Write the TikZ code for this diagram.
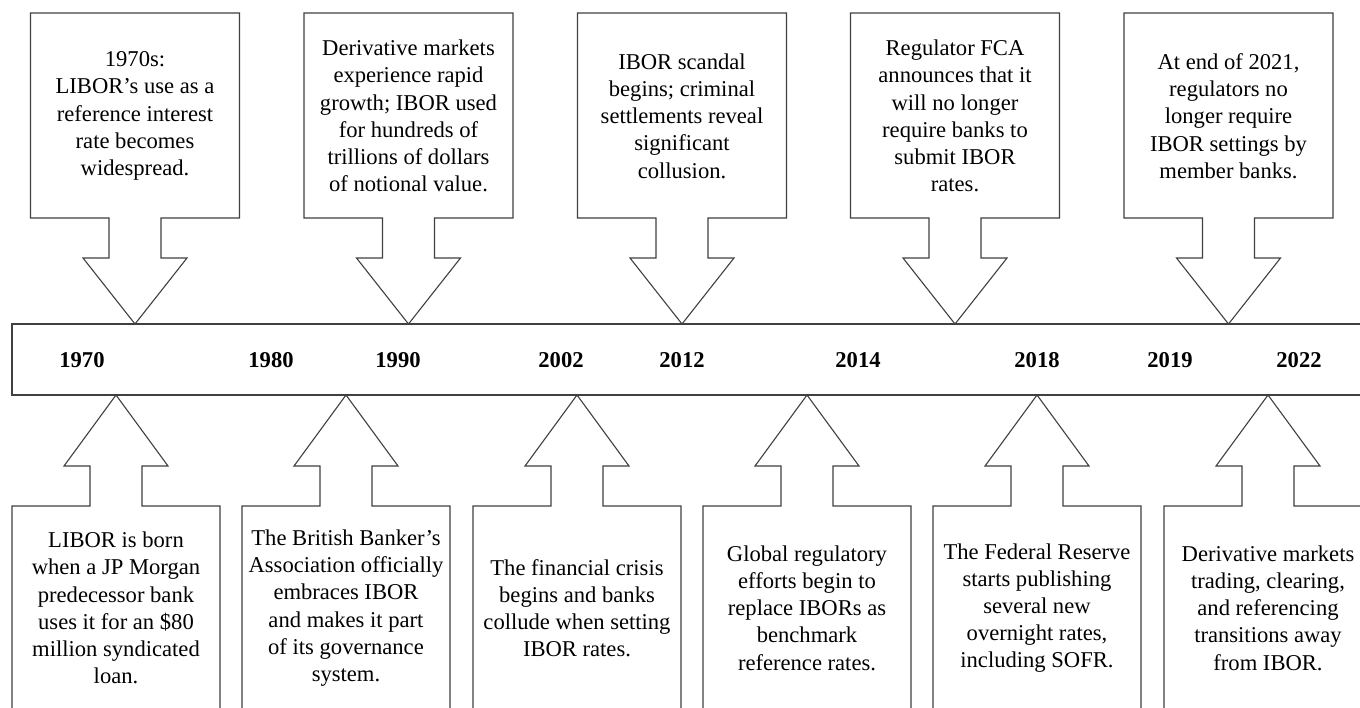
\documentclass[tikz,border=0pt]{standalone}
\usepackage{fontspec}
\setmainfont{Liberation Serif}

\tikzset{
  callout/.style={draw=black!75, line width=0.55pt, fill=white},
  boxtext/.style={align=center, inner sep=0pt, font=\fontsize{11.3}{13.6}\selectfont},
  yearlabel/.style={inner sep=0pt, font=\fontsize{11.3}{13.6}\selectfont\bfseries}
}

\begin{document}
\begin{tikzpicture}[x=0.5pt, y=-0.5pt]
    \useasboundingbox (0,0) rectangle (1360,707);
    \clip (0,0) rectangle (1360,707);

    % Barra del temps (oberta per la dreta)
    \draw[callout] (12,324) rectangle (1390,395);

    % Anys
    \foreach \px/\yr in {82/1970, 271/1980, 398/1990, 561/2002, 682/2012,
                         858/2014, 1037/2018, 1170/2019, 1299/2022}
        \node[yearlabel] (year\yr) at (\px,360.5) {\yr};

    % --- FLETXES DE DALT ---
    \foreach \px/\n/\txt in {
        135/1/{1970s:\\LIBOR’s use as a\\reference interest\\rate becomes\\widespread.},
        408.5/2/{Derivative markets\\experience rapid\\growth; IBOR used\\for hundreds of\\trillions of dollars\\of notional value.},
        682/3/{IBOR scandal\\begins; criminal\\settlements reveal\\significant\\collusion.},
        955/4/{Regulator FCA\\announces that it\\will no longer\\require banks to\\submit IBOR\\rates.},
        1228.5/5/{At end of 2021,\\regulators no\\longer require\\IBOR settings by\\member banks.}}
    {
        \draw[callout] (\px-104.5,13) -- (\px+104.5,13) -- (\px+104.5,218) -- (\px+26,218)
            -- (\px+26,258) -- (\px+52,258) -- (\px,324) -- (\px-52,258) -- (\px-26,258)
            -- (\px-26,218) -- (\px-104.5,218) -- cycle;
        \node[boxtext] (top\n) at (\px,116) {\txt};
    }

    % --- FLETXES DE BAIX ---
    \foreach \px/\n/\txt in {
        116/1/{LIBOR is born\\when a JP Morgan\\predecessor bank\\uses it for an \$80\\million syndicated\\loan.},
        346/2/{The British Banker’s\\Association officially\\embraces IBOR\\and makes it part\\of its governance\\system.},
        577/3/{The financial crisis\\begins and banks\\collude when setting\\IBOR rates.},
        807/4/{Global regulatory\\efforts begin to\\replace IBORs as\\benchmark\\reference rates.},
        1037/5/{The Federal Reserve\\starts publishing\\several new\\overnight rates,\\including SOFR.},
        1268/6/{Derivative markets\\trading, clearing,\\and referencing\\transitions away\\from IBOR.}}
    {
        \draw[callout] (\px,395) -- (\px+52,466) -- (\px+26,466) -- (\px+26,506)
            -- (\px+104,506) -- (\px+104,712) -- (\px-104,712) -- (\px-104,506)
            -- (\px-26,506) -- (\px-26,466) -- (\px-52,466) -- cycle;
        \node[boxtext] (bot\n) at (\px,608) {\txt};
    }
\end{tikzpicture}
\end{document}
